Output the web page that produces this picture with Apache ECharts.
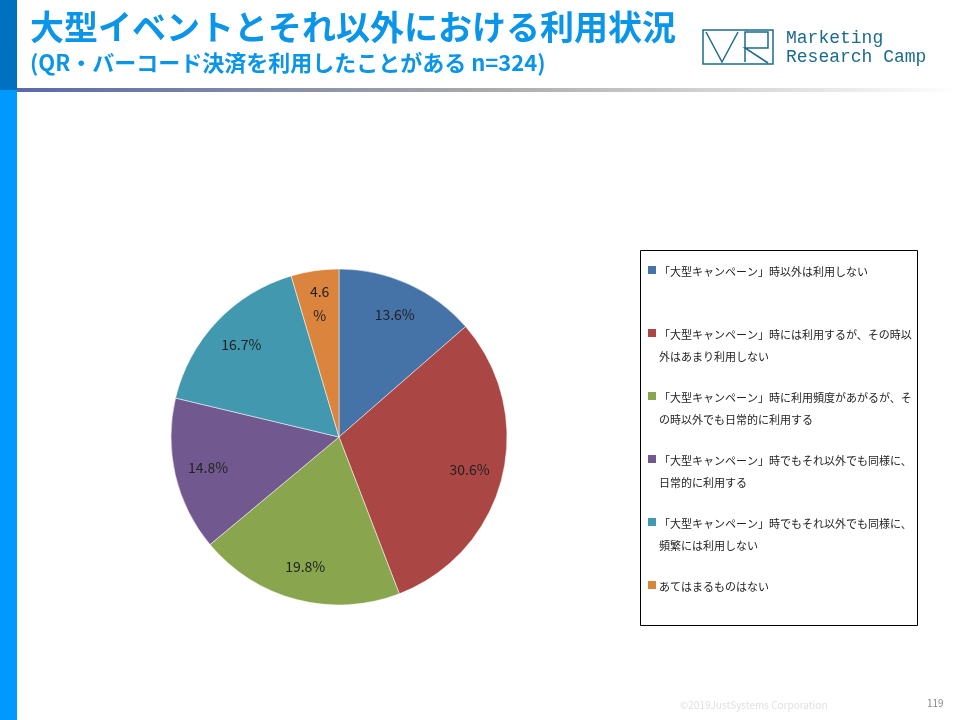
<!DOCTYPE html>
<html><head><meta charset="utf-8">
<script src="https://cdn.jsdelivr.net/npm/echarts@6/dist/echarts.min.js"></script>
<style>body{margin:0}#c{width:960px;height:720px}</style></head>
<body><div id="c"></div>
<script>
const categories = [
  '「大型キャンペーン」時以外は利用しない',
  '「大型キャンペーン」時には利用するが、その時以\n外はあまり利用しない',
  '「大型キャンペーン」時に利用頻度があがるが、そ\nの時以外でも日常的に利用する',
  '「大型キャンペーン」時でもそれ以外でも同様に、\n日常的に利用する',
  '「大型キャンペーン」時でもそれ以外でも同様に、\n頻繁には利用しない',
  'あてはまるものはない'
];
const values = [13.6, 30.6, 19.8, 14.8, 16.7, 4.6];
const colors = ['#4572a7', '#aa4643', '#89a54e', '#71588f', '#4198af', '#db843d'];

const font = '"Noto Sans CJK JP", sans-serif';
const legendItems = [];
categories.forEach((c, i) => {
  const y = 270 + i * 63;
  legendItems.push({type: 'rect', shape: {x: 648, y: y - 4, width: 8, height: 8}, style: {fill: colors[i]}});
  legendItems.push({type: 'text', left: 659, top: y - 9,
    style: {text: c, font: '11px ' + font, fill: '#222', lineHeight: 22}});
});

const chart = echarts.init(document.getElementById('c'));
chart.setOption({
  animation: false,
  graphic: [
    {type: 'rect', shape: {x: 0, y: 0, width: 17, height: 720}, style: {fill: '#0099ff'}},
    {type: 'rect', shape: {x: 0, y: 0, width: 17, height: 90}, style: {fill: '#0070c0'}},
    {type: 'rect', shape: {x: 17, y: 88, width: 943, height: 4},
      style: {fill: new echarts.graphic.LinearGradient(0, 0, 1, 0, [{offset: 0, color: '#5a6aa8'}, {offset: 0.5, color: '#aaaaaa'}, {offset: 1, color: '#ffffff'}])}},
    {type: 'text', left: 30, top: 10, style: {text: '大型イベントとそれ以外における利用状況', font: 'bold 34px ' + font, fill: '#0b95e8'}},
    {type: 'text', left: 30, top: 52, style: {text: '(QR・バーコード決済を利用したことがある n=324)', font: 'bold 22px ' + font, fill: '#0b95e8'}},
    {type: 'rect', shape: {x: 703, y: 30, width: 70, height: 34}, style: {fill: 'none', stroke: '#1c6b8e', lineWidth: 1.5}},
    {type: 'polyline', shape: {points: [[706, 32], [722, 62], [738, 32]]}, style: {fill: 'none', stroke: '#1c6b8e', lineWidth: 1.5}},
    {type: 'polyline', shape: {points: [[745, 62], [745, 32], [768, 32], [768, 48], [745, 48], [768, 63]]}, style: {fill: 'none', stroke: '#1c6b8e', lineWidth: 1.5}},
    {type: 'text', left: 786, top: 29, style: {text: 'Marketing\nResearch Camp', font: '18px "Liberation Mono", monospace', fill: '#1c6b8e', lineHeight: 19}},
    {type: 'rect', shape: {x: 640.5, y: 250.5, width: 277, height: 375}, style: {fill: 'none', stroke: '#000', lineWidth: 1}},
    ...legendItems,
    {type: 'text', left: 680, top: 700, style: {text: '©2019JustSystems Corporation', font: '10px ' + font, fill: '#e0e0e0'}},
    {type: 'text', left: 927, top: 698, style: {text: '119', font: '10px ' + font, fill: '#888'}}
  ],
  series: [{
    type: 'pie',
    center: [339, 437],
    radius: [0, 168],
    startAngle: 90,
    clockwise: true,
    data: values.map((v, i) => ({value: v, name: categories[i], itemStyle: {color: colors[i]}})),
    itemStyle: {borderColor: '#fff', borderWidth: 0.5},
    label: {show: false},
    labelLine: {show: false}
  }, {
    type: 'pie',
    center: [339, 437],
    radius: [95, 168],
    startAngle: 90,
    clockwise: true,
    silent: true,
    data: values.map((v, i) => ({value: v, name: categories[i], itemStyle: {color: 'transparent'}})),
    label: {
      position: 'inside',
      formatter: p => p.value === 4.6 ? '4.6\n%' : p.value.toFixed(1) + '%',
      color: '#222', fontSize: 14, fontFamily: font, lineHeight: 24
    },
    labelLine: {show: false}
  }]
});
</script></body></html>
